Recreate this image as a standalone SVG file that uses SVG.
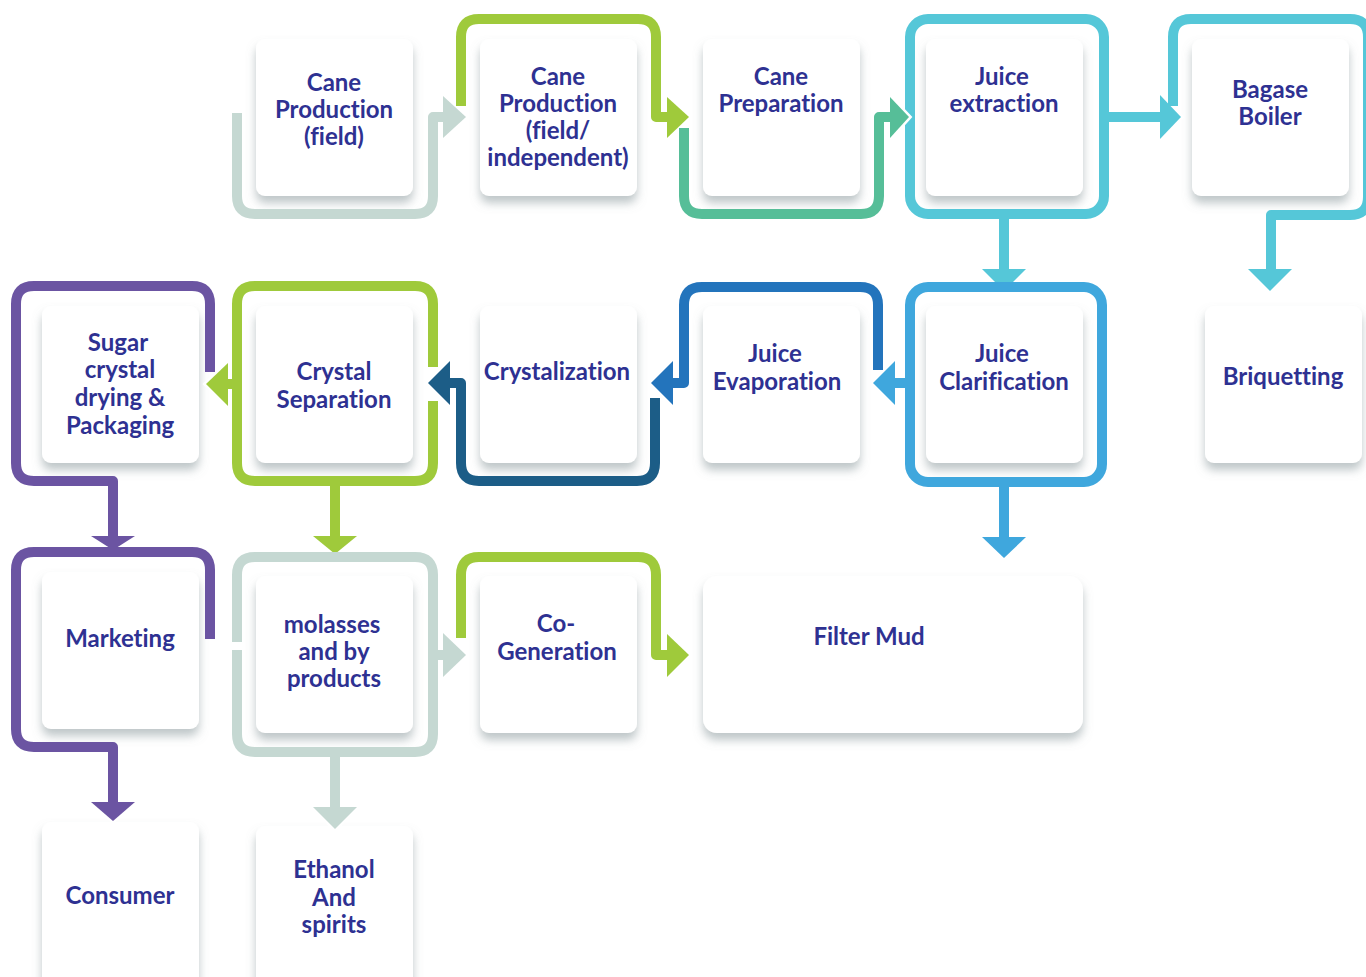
<svg xmlns="http://www.w3.org/2000/svg" width="1366" height="977" viewBox="0 0 1366 977">
<defs>
<filter id="sh" x="-20%" y="-20%" width="140%" height="150%">
<feDropShadow dx="0" dy="7" stdDeviation="5" flood-color="#7f8f92" flood-opacity="0.5"/>
</filter>
<style>
.card{fill:#fff;filter:url(#sh)}
.t{font-family:Lato,"Open Sans","Liberation Sans",sans-serif;font-weight:700;font-size:24px;fill:#2e3192;text-anchor:middle;font-variant-ligatures:none;font-feature-settings:"liga" 0}
.ln{fill:none;stroke-width:10;stroke-linejoin:round}
.wo{fill:none;stroke:#fff;stroke-width:5;stroke-linejoin:miter}
.gray{stroke:#c5d8d2}.gray-f{fill:#c5d8d2}
.lime{stroke:#9fca3b}.lime-f{fill:#9fca3b}
.teal{stroke:#56be98}.teal-f{fill:#56be98}
.cyan{stroke:#55c7d8}.cyan-f{fill:#55c7d8}
.sky{stroke:#3fa7dd}.sky-f{fill:#3fa7dd}
.blue{stroke:#2374bc}.blue-f{fill:#2374bc}
.navy{stroke:#1c5d87}.navy-f{fill:#1c5d87}
.purp{stroke:#6b54a2}.purp-f{fill:#6b54a2}
</style>
</defs>
<rect width="1366" height="977" fill="#fff"/>

<g id="nodes">
<g id="n-cane-field"><rect class="card" x="256" y="39" width="157" height="157" rx="9"/><text class="t" x="334" y="91">Cane</text><text class="t" x="334" y="118">Production</text><text class="t" x="334" y="145">(field)</text></g>
<g id="n-cane-indep"><rect class="card" x="480" y="39" width="157" height="157" rx="9"/><text class="t" x="558" y="85">Cane</text><text class="t" x="558" y="112">Production</text><text class="t" x="558" y="139">(field/</text><text class="t" x="558" y="166">independent)</text></g>
<g id="n-cane-prep"><rect class="card" x="703" y="39" width="157" height="157" rx="9"/><text class="t" x="781" y="85">Cane</text><text class="t" x="781" y="112">Preparation</text></g>
<g id="n-juice-ext"><rect class="card" x="926" y="39" width="157" height="157" rx="9"/><text class="t" x="1002" y="85">Juice</text><text class="t" x="1004" y="112">extraction</text></g>
<g id="n-bagase"><rect class="card" x="1192" y="39" width="157" height="157" rx="9"/><text class="t" x="1270" y="98">Bagase</text><text class="t" x="1270" y="125">Boiler</text></g>

<g id="n-sugar"><rect class="card" x="42" y="306" width="157" height="157" rx="9"/><text class="t" x="118" y="351">Sugar</text><text class="t" x="120" y="378">crystal</text><text class="t" x="120" y="406">drying &amp;</text><text class="t" x="120" y="434">Packaging</text></g>
<g id="n-crystal-sep"><rect class="card" x="256" y="306" width="157" height="157" rx="9"/><text class="t" x="334" y="380">Crystal</text><text class="t" x="334" y="408">Separation</text></g>
<g id="n-crystalization"><rect class="card" x="480" y="306" width="157" height="157" rx="9"/><text class="t" x="557" y="380">Crystalization</text></g>
<g id="n-evap"><rect class="card" x="703" y="306" width="157" height="157" rx="9"/><text class="t" x="775" y="362">Juice</text><text class="t" x="777" y="390">Evaporation</text></g>
<g id="n-clar"><rect class="card" x="926" y="306" width="157" height="157" rx="9"/><text class="t" x="1002" y="362">Juice</text><text class="t" x="1004" y="390">Clarification</text></g>
<g id="n-briq"><rect class="card" x="1205" y="306" width="157" height="157" rx="9"/><text class="t" x="1283" y="385">Briquetting</text></g>

<g id="n-marketing"><rect class="card" x="42" y="572" width="157" height="157" rx="9"/><text class="t" x="120" y="647">Marketing</text></g>
<g id="n-molasses"><rect class="card" x="256" y="576" width="157" height="157" rx="9"/><text class="t" x="332" y="633">molasses</text><text class="t" x="334" y="660">and by</text><text class="t" x="334" y="687">products</text></g>
<g id="n-cogen"><rect class="card" x="480" y="576" width="157" height="157" rx="9"/><text class="t" x="556" y="632">Co-</text><text class="t" x="557" y="660">Generation</text></g>
<g id="n-filter"><rect class="card" x="703" y="576" width="380" height="157" rx="14"/><text class="t" x="869" y="645">Filter Mud</text></g>

<g id="n-consumer"><rect class="card" x="42" y="822" width="157" height="175" rx="9"/><text class="t" x="120" y="904">Consumer</text></g>
<g id="n-ethanol"><rect class="card" x="256" y="826" width="157" height="175" rx="9"/><text class="t" x="334" y="878">Ethanol</text><text class="t" x="334" y="906">And</text><text class="t" x="334" y="933">spirits</text></g>
</g>

<g id="connectors">
<path class="ln gray" d="M237,113 V196 Q237,214 255,214 H415 Q433,214 433,196 V117 H446" stroke-linejoin="miter"/>
<path class="wo" d="M443,96 L466,117 L443,138"/><polygon class="gray-f" points="443,96 466,117 443,138"/>

<path class="ln lime" d="M461,106 V37 Q461,19 479,19 H638 Q656,19 656,37 V117 H669" stroke-linejoin="miter"/>
<path class="wo" d="M667,97 L689,117 L667,138"/><polygon class="lime-f" points="667,97 689,117 667,138"/>

<path class="ln teal" d="M684,128 V196 Q684,214 702,214 H861 Q879,214 879,196 V117 H892" stroke-linejoin="miter"/>

<rect class="ln cyan" x="910" y="19" width="194" height="195" rx="18"/>
<path class="wo" d="M890,97 L909,117 L890,138"/><polygon class="teal-f" points="890,97 909,117 890,138"/>
<path class="ln cyan" d="M1104,117 H1162 M1004,214 V271"/>
<path class="wo" d="M1160,95 L1181,117 L1160,139"/><polygon class="cyan-f" points="1160,95 1181,117 1160,139"/>
<path class="wo" d="M982,269 L1004,291 L1026,269"/><polygon class="cyan-f" points="982,269 1026,269 1004,291"/>

<path class="ln cyan" d="M1173,106 V37 Q1173,19 1191,19 H1350 Q1368,19 1368,37 V197 Q1368,215 1350,215 H1271 V271" stroke-linejoin="miter"/>
<path class="wo" d="M1248,269 L1270,291 L1292,269"/><polygon class="cyan-f" points="1248,269 1292,269 1270,291"/>

<rect class="ln sky" x="910" y="287" width="192" height="195" rx="18"/>
<path class="ln sky" d="M910,383 H893 M1004,482 V539"/>
<path class="wo" d="M895,361 L873,383 L895,405"/><polygon class="sky-f" points="895,361 873,383 895,405"/>
<path class="wo" d="M982,537 L1004,558 L1026,537"/><polygon class="sky-f" points="982,537 1026,537 1004,558"/>

<path class="ln blue" d="M878,370 V305 Q878,287 860,287 H702 Q684,287 684,305 V383 H670" stroke-linejoin="miter"/>
<path class="wo" d="M673,361 L651,383 L673,405"/><polygon class="blue-f" points="673,361 651,383 673,405"/>

<path class="ln navy" d="M655,398 V463 Q655,481 637,481 H479 Q461,481 461,463 V383 H447" stroke-linejoin="miter"/>

<path class="ln lime" d="M433,367 V304 Q433,286 415,286 H255 Q237,286 237,304 V463 Q237,481 255,481 H415 Q433,481 433,463 V401"/>
<path class="ln lime" d="M237,384 H226 M335,481 V538"/>
<path class="wo" d="M450,361 L428,383 L450,405"/><polygon class="navy-f" points="450,361 428,383 450,405"/>
<path class="wo" d="M228,363 L206,384 L228,406"/><polygon class="lime-f" points="228,363 206,384 228,406"/>
<path class="wo" d="M313,536 L335,554 L357,536"/><polygon class="lime-f" points="313,536 357,536 335,554"/>

<path class="ln purp" d="M210,372 V304 Q210,286 192,286 H34 Q16,286 16,304 V463 Q16,481 34,481 H113 V538" stroke-linejoin="miter"/>
<path class="wo" d="M91,536 L113,550 L135,536"/><polygon class="purp-f" points="91,536 135,536 113,550"/>

<path class="ln purp" d="M210,639 V570 Q210,552 192,552 H34 Q16,552 16,570 V729 Q16,747 34,747 H113 V804" stroke-linejoin="miter"/>
<path class="wo" d="M91,802 L113,821 L135,802"/><polygon class="purp-f" points="91,802 135,802 113,821"/>

<path class="ln gray" d="M237,650 V734 Q237,752 255,752 H415 Q433,752 433,734 V575 Q433,557 415,557 H255 Q237,557 237,575 V642"/>
<path class="ln gray" d="M433,655 H446 M335,752 V809" stroke-linejoin="miter"/>
<path class="wo" d="M313,807 L335,829 L357,807"/><polygon class="gray-f" points="313,807 357,807 335,829"/>

<path class="ln lime" d="M461,638 V575 Q461,557 479,557 H638 Q656,557 656,575 V655 H669" stroke-linejoin="miter"/>
<path class="wo" d="M443,633 L466,655 L443,677"/><polygon class="gray-f" points="443,633 466,655 443,677"/>
<path class="wo" d="M667,634 L689,655 L667,677"/><polygon class="lime-f" points="667,634 689,655 667,677"/>
</g>
</svg>
